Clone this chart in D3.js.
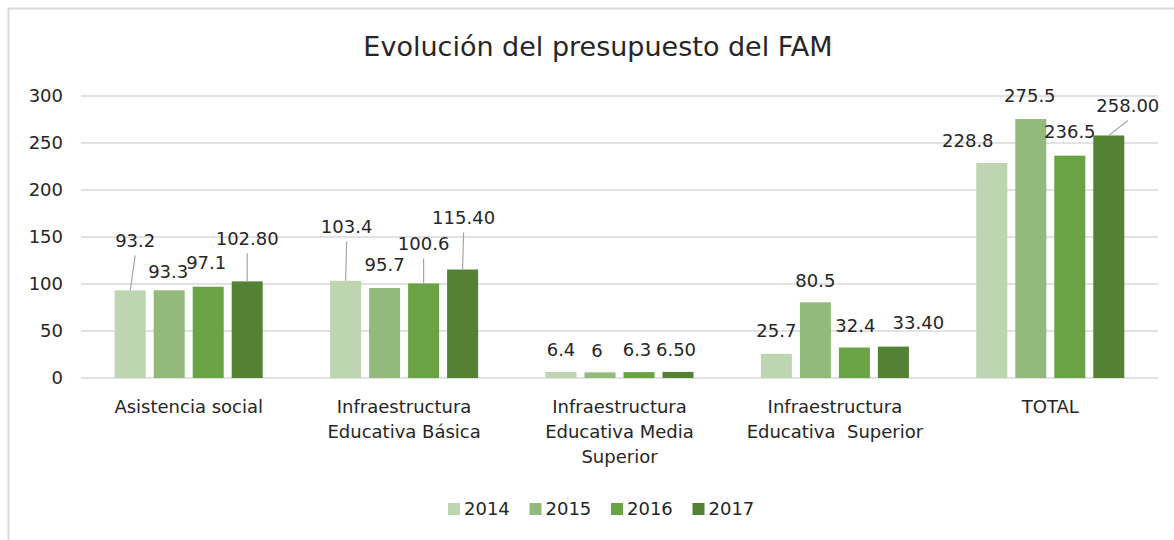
<!DOCTYPE html>
<html lang="es">
<head>
  <meta charset="UTF-8">
  <title>Evolución del presupuesto del FAM</title>
  <script src="https://cdnjs.cloudflare.com/ajax/libs/d3/7.8.5/d3.min.js"></script>
  <style>
    body { margin: 0; background: #fff; }
    svg { font-family: "DejaVu Sans", sans-serif; fill: #262626; }
    .grid line { stroke: #d9d9d9; stroke-width: 1.5px; }
    .tick-label { font-size: 18px; text-anchor: end; }
    .cat-label { font-size: 18px; text-anchor: middle; white-space: pre; }
    .val-label { font-size: 18px; text-anchor: middle; }
    .leader { stroke: #a6a6a6; stroke-width: 1.2px; }
    .legend text { font-size: 18px; }
  </style>
</head>
<body>
  <svg width="1174" height="540"></svg>
  <script>
    // datos
    var categories = ["Asistencia social", "Infraestructura Educativa Básica",
      "Infraestructura Educativa Media Superior", "Infraestructura Educativa  Superior", "TOTAL"]
    var catLines = [
      ["Asistencia social"],
      ["Infraestructura", "Educativa Básica"],
      ["Infraestructura", "Educativa Media", "Superior"],
      ["Infraestructura", "Educativa  Superior"],
      ["TOTAL"]
    ]
    var years = ["2014", "2015", "2016", "2017"]
    var v2014 = [93.2, 103.4, 6.4, 25.7, 228.8]
    var v2015 = [93.3, 95.7, 6, 80.5, 275.5]
    var v2016 = [97.1, 100.6, 6.3, 32.4, 236.5]
    var v2017 = [102.80, 115.40, 6.50, 33.40, 258.00]
    var labels2014 = ["93.2", "103.4", "6.4", "25.7", "228.8"]
    var labels2015 = ["93.3", "95.7", "6", "80.5", "275.5"]
    var labels2016 = ["97.1", "100.6", "6.3", "32.4", "236.5"]
    var labels2017 = ["102.80", "115.40", "6.50", "33.40", "258.00"]
    var yTicks = [0, 50, 100, 150, 200, 250, 300]

    var colors = ["#bed5b1", "#93ba7b", "#6aa343", "#548235"]

    // desplazamiento manual de etiquetas (dx, dy respecto a la parte superior de la barra, con línea guía)
    var labelShift = [
      [[5, -50, 1], [1, -54, 1], [0, -22, 0], [0, -23, 0], [-24, -22, 0]],
      [[-1, -19, 0], [0, -23, 0], [-3, -22, 0], [0, -22, 0], [-1, -23, 0]],
      [[-2, -24, 0], [0, -40, 1], [-2, -22, 0], [1, -22, 0], [0, -24, 0]],
      [[0, -43, 1], [1, -52, 1], [-2, -22, 0], [25, -24, 0], [19, -30, 1]]
    ]

    var series = [v2014, v2015, v2016, v2017]
    var seriesLabels = [labels2014, labels2015, labels2016, labels2017]

    var svg = d3.select("svg")
    var plotLeft = 81, plotRight = 1158, plotTop = 96, plotBottom = 378

    // marco
    svg.append("rect")
      .attr("x", 8.5).attr("y", 8.5)
      .attr("width", 1200).attr("height", 600)
      .attr("fill", "none").attr("stroke", "#d9d9d9").attr("stroke-width", 2)

    svg.append("text")
      .attr("x", 598).attr("y", 47).attr("dy", "0.35em")
      .attr("text-anchor", "middle").style("font-size", "27px")
      .text("Evolución del presupuesto del FAM")

    var x0 = d3.scaleBand().domain(d3.range(categories.length)).range([plotLeft, plotRight])
    var bandW = x0.bandwidth()
    var x1 = d3.scaleBand().domain(years).range([bandW / 2 - 74, bandW / 2 + 74]).paddingInner(0.205)
    var y = d3.scaleLinear().domain([0, 300]).range([plotBottom, plotTop])

    svg.append("g").attr("class", "grid")
      .selectAll("line").data(yTicks).join("line")
      .attr("x1", plotLeft).attr("x2", plotRight)
      .attr("y1", d => y(d)).attr("y2", d => y(d))

    svg.append("g").selectAll("text").data(yTicks).join("text")
      .attr("class", "tick-label")
      .attr("x", 63).attr("y", d => y(d)).attr("dy", "0.35em")
      .text(d => d)

    var groups = svg.append("g").selectAll("g").data(categories).join("g")
      .attr("transform", (d, i) => "translate(" + x0(i) + ",0)")

    years.forEach(function (yr, s) {
      groups.append("rect")
        .attr("x", x1(yr)).attr("width", x1.bandwidth())
        .attr("y", (d, i) => y(series[s][i]))
        .attr("height", (d, i) => plotBottom - y(series[s][i]))
        .attr("fill", colors[s])
    })

    // etiquetas de valor
    years.forEach(function (yr, s) {
      groups.each(function (d, i) {
        var g = d3.select(this)
        var bx = x1(yr) + x1.bandwidth() / 2
        var by = y(series[s][i])
        var sh = labelShift[s][i]
        var lx = bx + sh[0], ly = by + sh[1]
        if (sh[2]) {
          g.append("line").attr("class", "leader")
            .attr("x1", lx).attr("y1", ly + 15)
            .attr("x2", bx).attr("y2", by)
        }
        g.append("text").attr("class", "val-label")
          .attr("x", lx).attr("y", ly).attr("dy", "0.35em")
          .text(seriesLabels[s][i])
      })
    })

    // etiquetas de categoría
    groups.each(function (d, i) {
      var t = d3.select(this).append("text").attr("class", "cat-label")
        .attr("x", bandW / 2).attr("y", 407)
      catLines[i].forEach(function (ln, k) {
        t.append("tspan").attr("x", bandW / 2).attr("y", 407 + k * 25)
          .attr("dy", "0.35em").text(ln)
      })
    })

    // leyenda
    var legend = svg.append("g").attr("class", "legend")
      .selectAll("g").data(years).join("g")
      .attr("transform", (d, i) => "translate(" + (448 + i * 81.5) + ",509)")
    legend.append("rect").attr("x", 0).attr("y", -6).attr("width", 12).attr("height", 12)
      .attr("fill", (d, i) => colors[i])
    legend.append("text").attr("x", 16).attr("dy", "0.35em").text(d => d)
  </script>
</body>
</html>
